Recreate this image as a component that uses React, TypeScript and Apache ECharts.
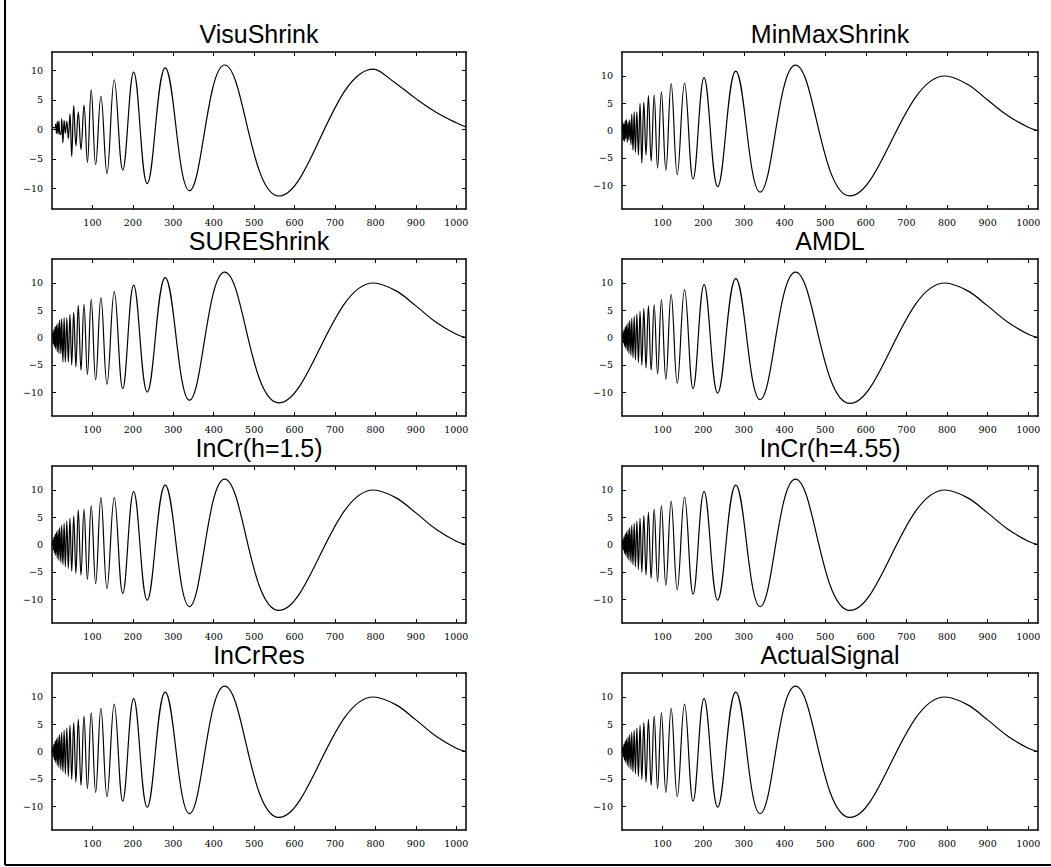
import React, { useEffect, useRef } from "react";
import * as echarts from "echarts";

// x positions of the extrema (plus the tail points)
const sampleX = [
  1, 2, 3, 5, 6, 8, 9, 11, 13, 15,
  17, 19, 22, 24, 27, 30, 33, 36.6, 40.4, 44.4,
  48.8, 53.7, 59.1, 65, 71.7, 79.2, 87.6, 97, 108, 121,
  136, 154, 175, 202, 235.5, 280, 340, 427, 561, 795,
  850, 900, 950, 1000, 1024,
];

const visuShrink = [
  0.3, 0.3, 0.3, 0.3, 0.3, 0.3, 0.9, -0.7, 1.3, -0.8,
  1.4, -0.6, -0.9, 1.8, -2.3, 1.5, -0.7, 1.4, -1.6, 2.6,
  -4.6, 4.0, -2.8, 2.9, -3.4, 4.1, -5.6, 6.7, -6.0, 5.6,
  -7.5, 8.4, -6.9, 9.7, -9.2, 10.4, -10.4, 10.9, -11.3, 10.2,
  7.8, 5.2, 2.9, 1.1, 0.4,
];

const minMaxShrink = [
  0, 1.5, -1.8, 1.2, -2.0, 1.8, -1.5, 2.0, -2.2, 1.6,
  -1.8, 2.0, -2.6, 3.0, -3.6, 3.4, -4.0, 3.4, -4.5, 5.0,
  -6.0, 5.2, -4.5, 6.4, -5.6, 6.5, -6.9, 7.1, -7.3, 8.6,
  -8.1, 8.7, -8.9, 9.7, -10.3, 10.9, -11.3, 12.0, -12.0, 10.0,
  8.5, 5.6, 2.7, 0.6, 0,
];

const sureShrink = [
  0, 0.9, -1.2, 1.5, -1.7, 2.0, -2.1, 2.3, -2.6, 2.7,
  -2.9, 3.2, -3.0, 3.4, -4.5, 3.6, -4.5, 3.6, -4.5, 4.2,
  -5.0, 4.6, -5.4, 5.9, -6.0, 6.1, -6.8, 7.0, -7.8, 7.3,
  -8.6, 8.4, -9.4, 9.6, -10.0, 11.0, -11.5, 12.0, -12.0, 10.0,
  8.6, 5.8, 2.8, 0.6, 0,
];

const amdl = [
  0, 0.8, -1.0, 1.4, -1.6, 1.9, -2.0, 2.3, -2.5, 2.7,
  -2.9, 3.1, -3.3, 3.5, -3.7, 3.9, -4.1, 4.3, -4.6, 4.8,
  -5.1, 5.3, -5.6, 5.8, -6.0, 6.0, -6.7, 6.9, -7.7, 7.9,
  -8.4, 8.8, -9.4, 9.7, -10.2, 10.8, -11.4, 12.0, -12.1, 10.0,
  8.6, 5.8, 2.8, 0.6, 0,
];

const inCr15 = [
  0, 0.8, -1.0, 1.4, -1.6, 1.9, -2.0, 2.3, -2.5, 2.7,
  -2.9, 3.1, -3.3, 3.5, -3.7, 3.9, -4.1, 4.3, -4.4, 4.8,
  -4.9, 5.2, -5.3, 6.3, -5.6, 6.5, -6.4, 7.1, -7.2, 8.6,
  -8.1, 8.6, -9.0, 9.7, -10.2, 10.9, -11.4, 12.0, -12.1, 10.0,
  8.6, 5.8, 2.8, 0.6, 0,
];

const inCr455 = [
  0, 0.8, -1.0, 1.4, -1.6, 1.9, -2.0, 2.3, -2.5, 2.7,
  -2.9, 3.1, -3.3, 3.5, -3.7, 3.9, -4.1, 4.3, -4.6, 4.8,
  -5.1, 5.3, -5.6, 5.9, -6.2, 6.5, -6.8, 7.1, -7.5, 7.9,
  -8.3, 8.7, -9.1, 9.7, -10.2, 10.9, -11.4, 12.0, -12.1, 10.0,
  8.6, 5.8, 2.8, 0.6, 0,
];

const inCrRes = [
  0, 0.8, -1.0, 1.4, -1.6, 1.9, -2.0, 2.3, -2.5, 2.7,
  -2.9, 3.1, -3.3, 3.5, -3.7, 3.9, -4.1, 4.3, -4.6, 4.8,
  -5.1, 5.3, -5.6, 5.9, -6.2, 6.5, -6.8, 7.1, -7.5, 7.9,
  -8.3, 8.7, -9.1, 9.7, -10.2, 10.9, -11.4, 12.0, -12.1, 10.0,
  8.6, 5.8, 2.8, 0.6, 0,
];

const actualSignal = [
  0, 0.8, -1.0, 1.4, -1.6, 1.9, -2.0, 2.3, -2.5, 2.7,
  -2.9, 3.1, -3.3, 3.5, -3.7, 3.9, -4.1, 4.3, -4.6, 4.8,
  -5.1, 5.3, -5.6, 5.9, -6.2, 6.5, -6.8, 7.1, -7.5, 7.9,
  -8.3, 8.7, -9.1, 9.7, -10.2, 10.9, -11.4, 12.0, -12.1, 10.0,
  8.6, 5.8, 2.8, 0.6, 0,
];

const panelTitles = [
  "VisuShrink", "MinMaxShrink", "SUREShrink", "AMDL",
  "InCr(h=1.5)", "InCr(h=4.55)", "InCrRes", "ActualSignal",
];
const panelValues = [
  visuShrink, minMaxShrink, sureShrink, amdl,
  inCr15, inCr455, inCrRes, actualSignal,
];
const panelYMin = [-13.5, -14.4, -14.4, -14.4, -14.4, -14.4, -14.4, -14.4];
const panelYMax = [13.1, 14.4, 14.4, 14.4, 14.4, 14.4, 14.4, 14.4];
const xTickValues = [100, 200, 300, 400, 500, 600, 700, 800, 900, 1000];
const yTickValues = [-10, -5, 0, 5, 10];

const W = 1051;
const H = 867;
const COL_LEFT = [52, 622];
const COL_WIDTH = [414, 416];
const ROW_TOP = [52, 259, 466, 673];
const PLOT_H = 157;
const TICK_FONT = "DejaVu Serif";
const TITLE_FONT = "Liberation Sans";

const fmtX = (v: number) => String(v);
const fmtY = (v: number) => (v < 0 ? "\u2212" + Math.abs(v) : String(v));

function buildOption() {
  const grid: any[] = [];
  const xAxis: any[] = [];
  const yAxis: any[] = [];
  const series: any[] = [];
  const graphic: any[] = [];

  panelTitles.forEach((title, i) => {
    const col = i % 2;
    const row = Math.floor(i / 2);
    const left = COL_LEFT[col];
    const width = COL_WIDTH[col];
    const top = ROW_TOP[row];
    grid.push({ left, top, width, height: PLOT_H, show: false });

    const axisLine = { show: true, onZero: false, lineStyle: { color: "#000", width: 1.5 } };
    ["bottom", "top"].forEach((pos) => {
      xAxis.push({
        type: "value",
        gridIndex: i,
        position: pos,
        min: 0,
        max: 1024,
        axisLine,
        axisTick: {
          show: true,
          inside: true,
          length: 4,
          customValues: xTickValues,
          lineStyle: { color: "#000", width: 1 },
        },
        axisLabel: {
          show: pos === "bottom",
          customValues: xTickValues,
          formatter: fmtX,
          color: "#000",
          fontFamily: TICK_FONT,
          fontSize: 9.5,
          margin: 8,
        },
        splitLine: { show: false },
      });
    });
    ["left", "right"].forEach((pos) => {
      yAxis.push({
        type: "value",
        gridIndex: i,
        position: pos,
        min: panelYMin[i],
        max: panelYMax[i],
        axisLine,
        axisTick: {
          show: true,
          inside: true,
          length: 4,
          customValues: yTickValues,
          lineStyle: { color: "#000", width: 1 },
        },
        axisLabel: {
          show: pos === "left",
          customValues: yTickValues,
          formatter: fmtY,
          color: "#000",
          fontFamily: TICK_FONT,
          fontSize: 9.5,
          margin: 9,
        },
        splitLine: { show: false },
      });
    });

    const vals = panelValues[i];
    series.push({
      type: "line",
      name: title,
      xAxisIndex: i * 2,
      yAxisIndex: i * 2,
      data: sampleX.map((x, j) => [x, vals[j]]),
      showSymbol: false,
      smooth: 0.4,
      lineStyle: { color: "#000", width: 1.2 },
      emphasis: { disabled: true },
    });

    graphic.push({
      type: "text",
      x: left + width / 2,
      y: top - 18,
      style: {
        text: title,
        fill: "#000",
        font: `25px "${TITLE_FONT}"`,
        textAlign: "center",
        textVerticalAlign: "middle",
      },
    });
  });

  graphic.push({
    type: "line",
    shape: { x1: 5, y1: 0, x2: 5, y2: 865 },
    style: { stroke: "#000", lineWidth: 2 },
  });
  graphic.push({
    type: "line",
    shape: { x1: 5, y1: 865, x2: W, y2: 865 },
    style: { stroke: "#000", lineWidth: 2 },
  });

  return {
    animation: false,
    backgroundColor: "#fff",
    grid,
    xAxis,
    yAxis,
    series,
    graphic,
  };
}

export default function App() {
  const ref = useRef<HTMLDivElement>(null);
  useEffect(() => {
    document.body.style.margin = "0";
    const chart = echarts.init(ref.current!, null, { renderer: "svg", width: W, height: H });
    chart.setOption(buildOption());
    return () => chart.dispose();
  }, []);
  return <div ref={ref} style={{ width: W, height: H }} />;
}
